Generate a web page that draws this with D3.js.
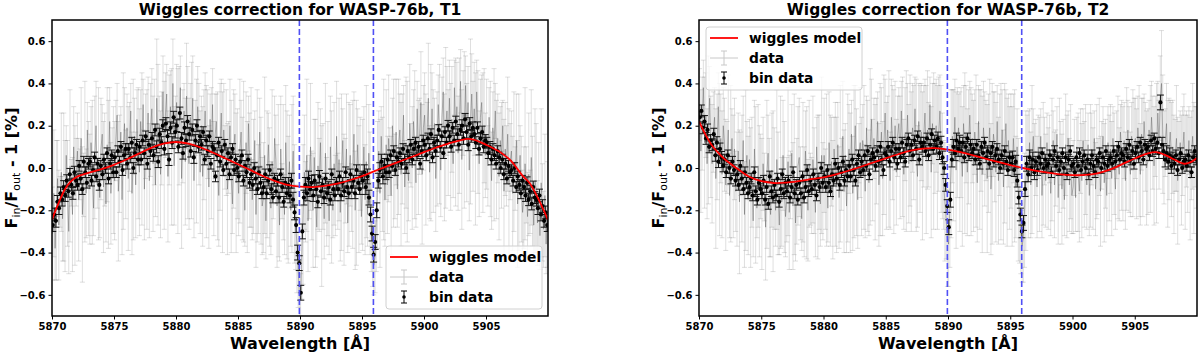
<!DOCTYPE html>
<html>
<head>
<meta charset="utf-8">
<script src="https://cdn.jsdelivr.net/npm/d3@7"></script>
<style>
body { margin: 0; background: #fff; }
svg text { font-family: "DejaVu Sans", sans-serif; font-weight: bold; }
</style>
</head>
<body>
<script>
// x-grid: raw spectrum every 0.1 A, binned spectrum every 0.125 A, from 5870 to 5910
const WAVE_START = 5870;
const RAW_STEP = 0.1;
const BIN_STEP = 0.125;
const xTicks = [5870, 5875, 5880, 5885, 5890, 5895, 5900, 5905];
const yTicks = [-0.6, -0.4, -0.2, 0.0, 0.2, 0.4, 0.6];
const sodiumLines = [5889.95, 5895.92];

// ---------- T1 ----------
// one row per Angstrom, 5870 .. 5909
const rawT1 = [
  -0.31,-0.12,-0.38,-0.20,-0.05,-0.27,-0.16,-0.02,-0.24,-0.09,
  -0.18,0.06,-0.12,-0.30,0.01,-0.07,-0.22,0.10,-0.13,-0.02,
  0.08,-0.15,-0.03,0.14,-0.22,-0.08,0.03,-0.12,0.18,-0.05,
  -0.10,0.12,-0.02,-0.19,0.05,0.20,-0.08,0.02,-0.14,0.09,
  0.16,-0.09,0.04,-0.17,0.11,-0.03,0.22,-0.12,0.07,-0.01,
  -0.06,0.13,0.25,-0.11,0.02,0.17,-0.15,0.08,0.21,-0.03,
  0.19,-0.05,0.10,0.27,-0.12,0.04,0.15,-0.08,0.23,0.07,
  -0.02,0.22,0.09,0.30,-0.10,0.15,0.04,0.26,-0.06,0.18,
  0.28,0.02,0.17,-0.08,0.33,0.11,0.21,-0.03,0.14,0.36,
  0.06,0.25,0.35,-0.04,0.18,0.29,0.10,0.40,0.01,0.22,
  0.31,0.08,0.20,0.38,-0.05,0.15,0.27,0.03,0.34,0.12,
  0.02,0.24,0.13,0.33,-0.06,0.19,0.08,0.29,0.16,-0.02,
  0.20,-0.04,0.11,0.27,0.03,0.16,-0.09,0.23,0.07,0.30,
  -0.05,0.15,0.22,0.01,-0.13,0.10,0.26,-0.02,0.18,0.05,
  0.12,-0.10,0.05,0.20,-0.04,-0.17,0.09,0.16,-0.07,0.02,
  -0.12,0.08,0.17,-0.05,0.03,-0.20,0.12,-0.09,0.21,-0.01,
  0.05,-0.15,-0.04,0.13,-0.22,0.01,-0.10,0.17,-0.06,-0.18,
  -0.14,0.06,-0.25,-0.03,0.11,-0.09,-0.19,0.03,-0.12,0.14,
  0.04,-0.18,-0.06,-0.27,0.09,-0.11,-0.02,-0.22,0.12,-0.08,
  -0.15,0.03,-0.20,-0.05,0.08,-0.17,-0.28,-0.35,-0.48,-0.60,
  -0.62,-0.40,-0.22,-0.02,-0.16,0.06,-0.25,-0.09,0.10,-0.13,
  -0.20,0.05,-0.12,-0.28,0.01,-0.08,0.12,-0.18,-0.04,-0.24,
  0.07,-0.16,-0.05,-0.25,0.10,-0.09,-0.20,0.02,-0.13,0.15,
  -0.11,0.04,-0.21,-0.02,0.13,-0.15,-0.06,0.09,-0.26,-0.03,
  0.06,-0.14,-0.03,0.16,-0.20,-0.07,0.11,-0.10,0.02,-0.23,
  -0.08,0.10,-0.15,0.03,-0.22,0.07,-0.12,-0.28,-0.38,-0.46,
  -0.42,-0.25,-0.08,0.08,-0.12,0.15,-0.03,0.04,-0.15,0.11,
  -0.08,0.14,0.03,-0.13,0.20,0.07,-0.04,0.17,-0.10,0.10,
  0.18,-0.03,0.09,0.25,-0.09,0.12,0.03,-0.06,0.21,0.06,
  0.00,0.22,0.11,-0.07,0.28,0.05,0.15,0.31,-0.03,0.19,
  0.25,0.04,0.17,0.33,-0.02,0.12,0.28,0.08,0.21,-0.05,
  0.09,0.30,0.16,-0.01,0.24,0.36,0.05,0.19,0.27,0.12,
  0.33,0.10,0.23,0.02,0.38,0.17,0.29,0.07,0.20,0.41,
  0.04,0.26,0.18,0.39,0.12,0.31,-0.01,0.22,0.35,0.15,
  0.28,0.09,0.36,0.17,0.02,0.24,0.31,0.12,0.20,0.06,
  0.16,0.01,0.24,0.09,-0.06,0.19,0.11,0.27,0.04,0.14,
  -0.04,0.13,0.06,0.20,-0.11,0.09,0.01,0.16,-0.08,0.03,
  0.08,-0.12,0.03,-0.05,0.13,-0.17,-0.02,0.06,-0.10,-0.21,
  -0.14,0.02,-0.08,-0.23,-0.03,-0.16,0.05,-0.11,-0.27,-0.06,
  -0.10,-0.26,-0.15,-0.32,-0.07,-0.21,-0.29,-0.13,-0.36,-0.22
];
const rawErrT1 = [
  0.22,0.30,0.15,0.33,0.18,0.26,0.12,0.28,0.20,0.35,
  0.31,0.14,0.25,0.20,0.36,0.11,0.27,0.19,0.33,0.16,
  0.18,0.29,0.12,0.24,0.32,0.15,0.38,0.21,0.13,0.27,
  0.26,0.17,0.34,0.13,0.29,0.21,0.11,0.36,0.19,0.24,
  0.14,0.31,0.22,0.18,0.27,0.35,0.16,0.24,0.12,0.30,
  0.28,0.19,0.15,0.33,0.23,0.12,0.26,0.37,0.17,0.21,
  0.16,0.34,0.21,0.13,0.29,0.38,0.18,0.25,0.14,0.31,
  0.30,0.15,0.36,0.12,0.24,0.20,0.33,0.17,0.27,0.22,
  0.19,0.32,0.25,0.15,0.28,0.38,0.13,0.30,0.22,0.17,
  0.35,0.20,0.14,0.31,0.26,0.17,0.37,0.21,0.28,0.12,
  0.18,0.39,0.28,0.15,0.33,0.22,0.13,0.30,0.25,0.36,
  0.31,0.16,0.37,0.20,0.27,0.13,0.34,0.19,0.24,0.29,
  0.14,0.33,0.26,0.18,0.36,0.21,0.29,0.12,0.31,0.17,
  0.27,0.20,0.13,0.35,0.24,0.30,0.16,0.38,0.22,0.15,
  0.25,0.31,0.17,0.22,0.36,0.14,0.28,0.19,0.33,0.26,
  0.20,0.34,0.15,0.29,0.38,0.17,0.24,0.31,0.13,0.27,
  0.33,0.19,0.27,0.14,0.25,0.36,0.21,0.16,0.30,0.23,
  0.26,0.37,0.18,0.30,0.15,0.28,0.22,0.34,0.12,0.20,
  0.21,0.29,0.36,0.17,0.25,0.13,0.32,0.19,0.27,0.35,
  0.30,0.22,0.17,0.35,0.26,0.28,0.20,0.24,0.18,0.15,
  0.12,0.22,0.33,0.27,0.19,0.36,0.24,0.15,0.30,0.21,
  0.27,0.18,0.35,0.14,0.30,0.22,0.16,0.38,0.25,0.19,
  0.33,0.21,0.27,0.16,0.24,0.36,0.13,0.29,0.19,0.26,
  0.18,0.29,0.23,0.37,0.15,0.31,0.20,0.26,0.14,0.34,
  0.24,0.16,0.35,0.20,0.28,0.39,0.17,0.30,0.22,0.13,
  0.31,0.19,0.26,0.36,0.15,0.23,0.29,0.21,0.18,0.14,
  0.17,0.24,0.30,0.19,0.35,0.14,0.27,0.38,0.22,0.26,
  0.23,0.30,0.16,0.28,0.13,0.35,0.20,0.25,0.18,0.32,
  0.17,0.34,0.26,0.14,0.22,0.31,0.38,0.19,0.28,0.15,
  0.29,0.15,0.35,0.21,0.13,0.27,0.18,0.24,0.33,0.20,
  0.20,0.31,0.14,0.26,0.22,0.37,0.17,0.29,0.12,0.25,
  0.27,0.14,0.33,0.22,0.19,0.16,0.30,0.38,0.21,0.25,
  0.18,0.30,0.25,0.16,0.13,0.35,0.21,0.27,0.32,0.15,
  0.33,0.20,0.37,0.14,0.28,0.17,0.24,0.39,0.19,0.26,
  0.22,0.36,0.15,0.29,0.25,0.18,0.13,0.33,0.27,0.20,
  0.26,0.19,0.14,0.32,0.23,0.17,0.36,0.13,0.28,0.21,
  0.30,0.16,0.25,0.12,0.34,0.22,0.19,0.27,0.36,0.18,
  0.19,0.27,0.33,0.15,0.22,0.30,0.37,0.14,0.25,0.20,
  0.24,0.36,0.18,0.21,0.29,0.15,0.32,0.26,0.17,0.34,
  0.31,0.20,0.27,0.16,0.35,0.23,0.18,0.29,0.14,0.25
];
const binT1 = [
  -0.27,-0.22,-0.25,-0.16,-0.19,-0.12,-0.15,-0.09,
  -0.13,-0.06,-0.11,-0.03,-0.08,-0.12,-0.02,-0.06,
  -0.08,0.01,-0.05,-0.10,0.03,-0.02,-0.07,0.02,
  0.03,-0.06,-0.01,0.05,-0.04,0.02,-0.08,0.01,
  -0.03,0.04,0.00,0.07,-0.05,0.02,0.06,-0.02,
  0.05,-0.02,0.08,0.03,0.10,-0.01,0.06,0.09,
  0.02,0.09,0.05,0.12,0.00,0.07,0.11,0.04,
  0.10,0.04,0.13,0.07,0.15,0.02,0.11,0.08,
  0.14,0.06,0.18,0.10,0.03,0.16,0.12,0.20,
  0.09,0.21,0.15,0.04,0.19,0.12,0.24,0.17,
  0.20,0.10,0.26,0.14,0.07,0.19,0.13,0.22,
  0.16,0.08,0.18,0.05,0.13,0.20,0.10,0.15,
  0.11,0.17,0.04,0.13,0.08,0.15,0.02,0.10,
  0.09,-0.04,0.06,0.12,0.03,0.08,-0.01,0.11,
  0.02,0.07,-0.03,0.05,0.09,-0.01,0.04,0.00,
  -0.04,0.03,0.06,-0.06,0.01,-0.02,0.04,-0.07,
  -0.03,-0.08,0.00,-0.05,-0.10,-0.02,-0.07,-0.12,
  -0.09,-0.03,-0.12,-0.06,-0.01,-0.10,-0.14,-0.05,
  -0.11,-0.06,-0.14,-0.03,-0.09,-0.16,-0.07,-0.12,
  -0.08,-0.13,-0.06,-0.15,-0.21,-0.27,-0.40,-0.45,
  -0.59,-0.30,-0.14,-0.08,-0.12,-0.05,-0.10,-0.07,
  -0.13,-0.06,-0.10,-0.16,-0.04,-0.11,-0.08,-0.14,
  -0.05,-0.12,-0.09,-0.15,-0.03,-0.10,-0.13,-0.07,
  -0.10,-0.04,-0.13,-0.07,-0.11,-0.02,-0.09,-0.12,
  -0.03,-0.09,-0.06,-0.12,-0.01,-0.07,-0.10,-0.04,
  -0.06,-0.02,-0.09,-0.04,-0.14,-0.22,-0.31,-0.41,
  -0.35,-0.20,-0.06,-0.01,0.03,-0.04,0.01,-0.02,
  0.04,-0.02,0.06,0.01,0.08,-0.01,0.05,0.03,
  0.07,0.02,0.09,0.04,0.00,0.08,0.05,0.11,
  0.04,0.09,0.12,0.06,0.10,0.02,0.08,0.13,
  0.11,0.06,0.14,0.09,0.16,0.05,0.12,0.08,
  0.13,0.18,0.10,0.15,0.07,0.17,0.12,0.20,
  0.15,0.10,0.19,0.13,0.22,0.16,0.11,0.18,
  0.20,0.14,0.23,0.17,0.11,0.21,0.15,0.19,
  0.16,0.12,0.19,0.09,0.14,0.17,0.10,0.13,
  0.12,0.07,0.10,0.04,0.09,0.06,0.02,0.08,
  0.05,0.00,0.04,-0.03,0.02,-0.05,0.01,-0.02,
  -0.01,-0.06,0.00,-0.09,-0.04,-0.08,-0.12,-0.06,
  -0.09,-0.13,-0.07,-0.15,-0.11,-0.17,-0.09,-0.14,
  -0.15,-0.19,-0.13,-0.22,-0.18,-0.25,-0.21,-0.27
];
// bin error (half-length) for each 1 A slice, 5870..5909
const binErrT1 = [
  0.03,0.028,0.025,0.025,0.025,0.025,0.025,0.025,0.028,0.028,
  0.028,0.028,0.025,0.025,0.025,0.025,0.025,0.025,0.025,0.035,
  0.035,0.028,0.025,0.025,0.025,0.035,0.035,0.025,0.025,0.025,
  0.025,0.025,0.025,0.028,0.028,0.025,0.025,0.025,0.028,0.03
];
const modelT1 = [
  [5870,-0.245],[5870.5,-0.17],[5871,-0.105],[5871.5,-0.065],[5872,-0.042],
  [5873,-0.022],[5874,-0.005],[5875,0.015],[5876,0.04],[5877,0.068],
  [5878,0.095],[5879,0.115],[5880,0.123],[5881,0.115],[5882,0.097],
  [5883,0.072],[5884,0.045],[5885,0.018],[5886,-0.01],[5887,-0.038],
  [5888,-0.062],[5889,-0.08],[5890,-0.088],[5891,-0.09],[5892,-0.085],
  [5893,-0.074],[5894,-0.058],[5895,-0.038],[5896,-0.015],[5897,0.008],
  [5898,0.03],[5899,0.052],[5900,0.075],[5901,0.097],[5902,0.117],
  [5903,0.132],[5903.5,0.138],[5904,0.134],[5905,0.11],[5906,0.08],
  [5906.6,0.055],[5907,0.035],[5908,-0.04],[5908.5,-0.07],[5909,-0.12],
  [5909.5,-0.18],[5910,-0.245]
];

// ---------- T2 ----------
const rawT2 = [
  0.30,0.08,0.21,0.38,0.12,0.25,0.02,0.18,0.33,0.10,
  0.02,0.17,0.24,-0.05,0.10,0.29,0.04,0.14,-0.03,0.20,
  0.11,-0.08,0.05,0.18,-0.13,0.02,0.14,-0.04,0.09,-0.11,
  -0.10,0.08,-0.16,0.02,-0.05,0.13,-0.22,-0.01,0.06,-0.13,
  0.04,-0.14,-0.02,-0.25,0.09,-0.08,-0.19,0.01,-0.11,-0.04,
  -0.17,0.02,-0.09,-0.28,-0.03,0.07,-0.14,-0.22,-0.01,-0.11,
  -0.05,-0.20,0.04,-0.12,-0.27,-0.02,-0.16,0.06,-0.09,-0.23,
  -0.15,0.03,-0.21,-0.08,0.07,-0.18,-0.03,-0.26,-0.11,0.01,
  0.05,-0.12,-0.24,-0.02,-0.16,0.08,-0.07,-0.20,0.02,-0.10,
  -0.13,0.04,-0.06,-0.21,0.10,-0.09,-0.02,-0.17,0.06,-0.11,
  0.06,-0.10,-0.01,-0.19,0.12,-0.06,0.03,-0.15,0.09,-0.03,
  -0.08,0.11,-0.14,0.02,-0.03,0.15,-0.11,0.06,-0.18,0.00,
  0.09,-0.07,0.16,-0.12,0.03,0.20,-0.02,-0.15,0.07,0.12,
  -0.04,0.13,0.05,-0.11,0.19,0.01,-0.07,0.10,0.23,-0.01,
  0.14,-0.02,0.08,0.22,-0.08,0.04,0.17,-0.05,0.11,0.26,
  0.01,0.18,0.09,-0.06,0.24,0.12,0.03,0.20,-0.02,0.15,
  0.21,0.05,0.27,0.10,-0.03,0.16,0.08,0.25,0.02,0.13,
  0.03,0.19,0.12,0.28,0.06,-0.04,0.22,0.09,0.17,0.01,
  0.15,0.26,0.04,0.18,0.11,0.30,-0.02,0.21,0.08,0.14,
  0.20,0.05,0.16,0.27,0.09,0.01,-0.08,-0.16,-0.24,-0.33,
  -0.36,-0.18,0.02,0.15,0.06,0.24,-0.01,0.12,0.19,0.03,
  0.12,-0.04,0.21,0.07,0.16,-0.02,0.10,0.25,0.03,0.14,
  0.01,0.17,0.08,-0.07,0.22,0.04,0.13,-0.03,0.19,0.09,
  0.13,-0.05,0.07,0.19,-0.10,0.02,0.16,0.10,-0.02,0.22,
  -0.06,0.11,0.03,0.18,-0.09,0.07,0.21,-0.02,0.13,0.00,
  0.08,-0.04,0.14,0.01,-0.09,0.10,-0.15,-0.22,-0.30,-0.37,
  -0.33,-0.20,-0.06,0.06,-0.03,0.12,-0.08,0.04,0.15,-0.01,
  0.05,-0.09,0.10,-0.03,0.15,-0.13,0.02,0.08,-0.06,0.12,
  -0.05,0.09,-0.12,0.04,0.13,-0.08,0.00,0.16,-0.14,0.06,
  0.07,-0.10,0.02,-0.15,0.11,-0.04,0.14,-0.08,0.03,-0.13,
  -0.09,0.05,-0.14,0.10,-0.02,-0.11,0.08,-0.06,0.13,-0.03,
  0.04,-0.08,0.11,-0.13,0.01,0.09,-0.05,0.14,-0.10,0.03,
  -0.04,0.10,-0.11,0.06,0.15,-0.07,0.02,-0.13,0.12,0.00,
  0.09,-0.05,0.14,0.02,-0.10,0.11,0.05,-0.03,0.17,0.06,
  0.02,0.13,-0.06,0.09,0.18,0.04,-0.03,0.15,0.07,0.11,
  0.14,0.02,0.19,0.08,-0.03,0.16,0.05,0.22,0.10,0.00,
  0.03,0.18,0.09,0.24,0.12,0.01,0.15,0.07,0.26,0.11,
  0.33,0.40,0.16,0.05,0.12,0.21,0.02,0.09,0.17,0.04,
  0.10,-0.03,0.06,0.14,-0.06,0.03,0.12,-0.01,0.08,0.17,
  -0.02,0.09,0.02,0.13,-0.05,0.06,0.15,0.00,0.10,0.05
];
const rawErrT2 = [
  0.17,0.29,0.22,0.13,0.31,0.20,0.26,0.35,0.15,0.24,
  0.28,0.19,0.14,0.33,0.25,0.16,0.36,0.21,0.30,0.18,
  0.22,0.31,0.17,0.26,0.20,0.37,0.14,0.29,0.24,0.19,
  0.27,0.18,0.34,0.15,0.30,0.21,0.25,0.38,0.16,0.28,
  0.19,0.33,0.26,0.17,0.23,0.37,0.14,0.29,0.31,0.20,
  0.31,0.22,0.16,0.25,0.35,0.18,0.28,0.20,0.27,0.38,
  0.24,0.17,0.33,0.29,0.14,0.36,0.21,0.26,0.31,0.19,
  0.20,0.35,0.27,0.16,0.23,0.30,0.38,0.18,0.25,0.28,
  0.28,0.22,0.15,0.33,0.26,0.19,0.36,0.24,0.30,0.17,
  0.18,0.30,0.25,0.21,0.14,0.34,0.27,0.20,0.37,0.23,
  0.27,0.19,0.36,0.16,0.24,0.31,0.21,0.28,0.15,0.34,
  0.32,0.20,0.24,0.37,0.17,0.26,0.29,0.15,0.22,0.35,
  0.21,0.33,0.16,0.27,0.36,0.19,0.30,0.23,0.14,0.26,
  0.28,0.17,0.34,0.22,0.15,0.31,0.25,0.37,0.19,0.24,
  0.19,0.32,0.25,0.14,0.29,0.36,0.21,0.27,0.33,0.16,
  0.30,0.16,0.37,0.23,0.18,0.27,0.34,0.21,0.25,0.19,
  0.17,0.29,0.14,0.33,0.26,0.22,0.38,0.15,0.28,0.31,
  0.33,0.21,0.27,0.15,0.36,0.24,0.18,0.30,0.23,0.35,
  0.24,0.16,0.35,0.28,0.20,0.13,0.31,0.19,0.37,0.26,
  0.22,0.34,0.27,0.17,0.30,0.25,0.21,0.28,0.19,0.23,
  0.20,0.29,0.35,0.22,0.31,0.18,0.37,0.26,0.16,0.33,
  0.26,0.33,0.18,0.38,0.23,0.30,0.27,0.16,0.35,0.21,
  0.31,0.20,0.36,0.28,0.17,0.33,0.24,0.37,0.22,0.27,
  0.19,0.35,0.28,0.23,0.31,0.38,0.20,0.26,0.33,0.17,
  0.30,0.24,0.37,0.19,0.27,0.33,0.16,0.35,0.22,0.29,
  0.27,0.33,0.21,0.36,0.24,0.18,0.29,0.23,0.20,0.17,
  0.21,0.27,0.33,0.19,0.30,0.16,0.25,0.35,0.13,0.22,
  0.18,0.24,0.15,0.27,0.13,0.20,0.29,0.16,0.22,0.14,
  0.24,0.16,0.20,0.29,0.14,0.25,0.18,0.13,0.22,0.27,
  0.15,0.26,0.21,0.17,0.24,0.29,0.13,0.22,0.27,0.18,
  0.22,0.18,0.16,0.14,0.28,0.24,0.20,0.27,0.15,0.25,
  0.26,0.21,0.15,0.19,0.29,0.17,0.24,0.13,0.22,0.27,
  0.18,0.23,0.26,0.16,0.14,0.28,0.21,0.19,0.17,0.25,
  0.21,0.27,0.15,0.24,0.19,0.16,0.29,0.22,0.13,0.26,
  0.27,0.18,0.23,0.29,0.14,0.25,0.20,0.16,0.30,0.22,
  0.19,0.26,0.15,0.31,0.24,0.17,0.28,0.13,0.21,0.27,
  0.25,0.14,0.30,0.17,0.22,0.28,0.19,0.33,0.15,0.21,
  0.20,0.25,0.28,0.22,0.16,0.19,0.30,0.24,0.15,0.27,
  0.22,0.28,0.17,0.25,0.30,0.19,0.15,0.26,0.21,0.18,
  0.27,0.18,0.23,0.16,0.29,0.21,0.25,0.31,0.19,0.24
];
const binT2 = [
  0.24,0.27,0.19,0.22,0.14,0.18,0.10,0.13,
  0.11,0.16,0.06,0.12,0.03,0.09,0.05,0.01,
  0.04,-0.02,0.06,0.00,-0.05,0.03,-0.01,-0.06,
  -0.03,-0.08,0.01,-0.05,-0.10,-0.02,-0.07,-0.12,
  -0.09,-0.05,-0.13,-0.02,-0.11,-0.15,-0.07,-0.10,
  -0.12,-0.06,-0.15,-0.09,-0.17,-0.04,-0.11,-0.14,
  -0.08,-0.13,-0.05,-0.16,-0.10,-0.03,-0.12,-0.07,
  -0.11,-0.06,-0.14,-0.09,-0.02,-0.12,-0.08,-0.15,
  -0.07,-0.12,-0.04,-0.14,-0.09,-0.01,-0.11,-0.06,
  -0.10,-0.03,-0.08,-0.13,-0.05,-0.09,0.00,-0.07,
  -0.04,-0.09,-0.01,-0.07,-0.11,-0.03,-0.06,0.02,
  -0.05,0.00,-0.08,-0.02,0.03,-0.06,-0.01,-0.04,
  0.01,-0.04,0.04,-0.01,-0.06,0.02,0.06,-0.02,
  0.03,-0.01,0.06,0.01,0.08,-0.03,0.04,0.07,
  0.05,0.01,0.08,0.03,0.10,0.04,-0.01,0.07,
  0.06,0.10,0.03,0.08,0.12,0.05,0.09,0.02,
  0.09,0.05,0.12,0.07,0.03,0.11,0.14,0.08,
  0.11,0.06,0.13,0.09,0.15,0.04,0.12,0.10,
  0.12,0.08,0.14,0.06,0.11,0.16,0.09,0.13,
  0.10,0.14,0.07,0.12,0.05,0.00,-0.08,-0.18,
  -0.28,-0.15,0.04,0.10,0.07,0.13,0.09,0.12,
  0.08,0.12,0.05,0.10,0.14,0.06,0.11,0.07,
  0.09,0.04,0.11,0.06,0.02,0.10,0.07,0.12,
  0.05,0.08,0.02,0.07,0.10,0.03,0.06,0.09,
  0.04,0.00,0.06,0.02,0.08,0.03,-0.01,0.05,
  0.02,0.05,-0.01,0.03,-0.06,-0.14,-0.22,-0.30,
  -0.26,-0.10,0.02,-0.03,0.05,0.00,0.04,-0.02,
  0.03,-0.01,0.05,0.02,0.07,0.00,0.04,0.01,
  0.02,0.06,-0.02,0.04,0.08,0.01,0.05,-0.01,
  0.03,0.07,0.00,0.05,-0.03,0.04,0.08,0.01,
  0.02,-0.02,0.05,0.01,0.07,-0.01,0.03,0.06,
  0.00,0.04,-0.03,0.02,0.06,0.01,-0.02,0.04,
  0.03,0.07,0.00,0.05,0.02,0.08,0.01,0.04,
  0.05,0.02,0.08,0.03,0.06,0.10,0.04,0.07,
  0.06,0.03,0.09,0.05,0.11,0.04,0.08,0.02,
  0.07,0.10,0.05,0.12,0.08,0.04,0.11,0.09,
  0.10,0.06,0.13,0.08,0.14,0.09,0.12,0.07,
  0.31,0.11,0.08,0.04,0.07,0.03,0.06,0.01,
  0.05,0.02,0.06,-0.01,0.04,0.07,0.00,0.03,
  0.04,0.01,0.06,0.03,-0.02,0.05,0.08,0.04
];
const binErrT2 = [
  0.028,0.028,0.025,0.025,0.025,0.025,0.025,0.025,0.025,0.025,
  0.025,0.025,0.025,0.025,0.025,0.025,0.025,0.025,0.025,0.03,
  0.035,0.025,0.025,0.025,0.025,0.03,0.035,0.025,0.025,0.025,
  0.025,0.025,0.025,0.025,0.025,0.025,0.025,0.035,0.025,0.025
];
const modelT2 = [
  [5870,0.22],[5870.5,0.16],[5871,0.11],[5871.5,0.075],[5872,0.045],
  [5873,0.0],[5874,-0.04],[5875,-0.062],[5876,-0.071],[5877,-0.069],
  [5878,-0.062],[5879,-0.053],[5880,-0.044],[5881,-0.03],[5882,-0.013],
  [5883,0.006],[5884,0.026],[5885,0.046],[5886,0.065],[5887,0.082],
  [5888,0.092],[5889,0.094],[5890,0.087],[5891,0.075],[5892,0.06],
  [5893,0.044],[5894,0.029],[5895,0.014],[5896,0.0],[5897,-0.012],
  [5898,-0.022],[5899,-0.03],[5900,-0.034],[5901,-0.033],[5902,-0.025],
  [5903,-0.008],[5904,0.018],[5905,0.045],[5906,0.068],[5906.7,0.075],
  [5907.5,0.06],[5908,0.045],[5908.5,0.03],[5909,0.02],[5909.5,0.028],[5910,0.047]
];

const panels = [
  { id: 't1', title: 'Wiggles correction for WASP-76b, T1', left: 52, right: 548,
    raw: rawT1, rawErr: rawErrT1, bin: binT1, binErr: binErrT1, model: modelT1,
    legend: { x: 386, y: 246 } },
  { id: 't2', title: 'Wiggles correction for WASP-76b, T2', left: 699, right: 1197,
    raw: rawT2, rawErr: rawErrT2, bin: binT2, binErr: binErrT2, model: modelT2,
    legend: { x: 706, y: 27 } }
];

const TOP = 20, BOTTOM = 316;
const svg = d3.select('body').append('svg').attr('width', 1200).attr('height', 357);
const defs = svg.append('defs');

const RAW_COLOR = '#606060';
const DASH_COLOR = '#5050f5';

// vertical error bar with caps
function errorBar(g, cx, y0, y1, cap) {
  g.append('line').attr('x1', cx).attr('x2', cx).attr('y1', y0).attr('y2', y1);
  g.append('line').attr('x1', cx - cap).attr('x2', cx + cap).attr('y1', y0).attr('y2', y0);
  g.append('line').attr('x1', cx - cap).attr('x2', cx + cap).attr('y1', y1).attr('y2', y1);
}

function drawPanel(p) {
  const x = d3.scaleLinear().domain([5870, 5910]).range([p.left, p.right]);
  const y = d3.scaleLinear().domain([-0.7, 0.7]).range([BOTTOM, TOP]);

  defs.append('clipPath').attr('id', 'clip-' + p.id)
    .append('rect').attr('x', p.left).attr('y', TOP)
    .attr('width', p.right - p.left).attr('height', BOTTOM - TOP);

  const plot = svg.append('g').attr('clip-path', `url(#clip-${p.id})`);

  // raw data: faint error bars + connecting line
  const rawPts = p.raw.map((v, i) => ({
    w: WAVE_START + (i + 0.5) * RAW_STEP, v, e: p.rawErr[i]
  }));
  const rawG = plot.append('g')
    .attr('stroke', RAW_COLOR).attr('stroke-opacity', 0.2).attr('stroke-width', 1);
  rawPts.forEach(d => errorBar(rawG, x(d.w), y(d.v - d.e), y(d.v + d.e), 2.5));
  plot.append('path').datum(rawPts)
    .attr('fill', 'none').attr('stroke', RAW_COLOR).attr('stroke-opacity', 0.45).attr('stroke-width', 1)
    .attr('d', d3.line().x(d => x(d.w)).y(d => y(d.v)));

  // binned data
  const binG = plot.append('g').attr('stroke', '#111').attr('stroke-width', 1);
  p.bin.forEach((v, i) => {
    const w = WAVE_START + (i + 0.5) * BIN_STEP;
    const e = p.binErr[Math.floor(w - WAVE_START)];
    errorBar(binG, x(w), y(v - e), y(v + e), 3.5);
    plot.append('circle').attr('cx', x(w)).attr('cy', y(v)).attr('r', 2.1).attr('fill', '#000');
  });

  // wiggles model
  plot.append('path').datum(p.model)
    .attr('fill', 'none').attr('stroke', '#ff0000').attr('stroke-width', 1.8)
    .attr('d', d3.line().x(d => x(d[0])).y(d => y(d[1])).curve(d3.curveCatmullRom));

  // sodium D lines
  sodiumLines.forEach(w => {
    svg.append('line').attr('x1', x(w)).attr('x2', x(w)).attr('y1', TOP).attr('y2', BOTTOM)
      .attr('stroke', DASH_COLOR).attr('stroke-width', 1.6).attr('stroke-dasharray', '6,3');
  });

  // axes
  const xAxis = d3.axisBottom(x).tickValues(xTicks).tickFormat(d3.format('d'))
    .tickSize(3.5).tickPadding(3);
  const yAxis = d3.axisLeft(y).tickValues(yTicks).tickFormat(d3.format('.1f'))
    .tickSize(3.5).tickPadding(3);
  const xg = svg.append('g').attr('transform', `translate(0,${BOTTOM})`).call(xAxis);
  const yg = svg.append('g').attr('transform', `translate(${p.left},0)`).call(yAxis);
  [xg, yg].forEach(a => {
    a.select('.domain').remove();
    a.selectAll('text').attr('font-size', 10).attr('font-family', '"DejaVu Sans", sans-serif')
      .attr('font-weight', 'bold').attr('fill', '#000');
    a.selectAll('.tick line').attr('stroke', '#000');
  });

  svg.append('rect').attr('x', p.left).attr('y', TOP)
    .attr('width', p.right - p.left).attr('height', BOTTOM - TOP)
    .attr('fill', 'none').attr('stroke', '#000').attr('stroke-width', 1.5);

  // title & labels
  const cx = (p.left + p.right) / 2;
  svg.append('text').attr('x', cx).attr('y', 15).attr('text-anchor', 'middle')
    .attr('font-size', 15.5).text(p.title);
  svg.append('text').attr('x', cx).attr('y', 349).attr('text-anchor', 'middle')
    .attr('font-size', 16).text('Wavelength [Å]');

  const yl = svg.append('text')
    .attr('transform', `translate(${p.left - 35},${(TOP + BOTTOM) / 2}) rotate(-90)`)
    .attr('text-anchor', 'middle').attr('font-size', 16);
  yl.append('tspan').text('F');
  yl.append('tspan').attr('font-size', 11).attr('font-weight', 'normal').attr('dy', 3).text('in');
  yl.append('tspan').attr('dy', -3).text('/F');
  yl.append('tspan').attr('font-size', 11).attr('font-weight', 'normal').attr('dy', 3).text('out');
  yl.append('tspan').attr('dy', -3).text(' - 1 [%]');

  // legend
  const L = p.legend;
  const lg = svg.append('g').attr('transform', `translate(${L.x},${L.y})`);
  lg.append('rect').attr('width', 156).attr('height', 63).attr('rx', 3)
    .attr('fill', '#fff').attr('fill-opacity', 0.8).attr('stroke', '#d0d0d0');
  ['wiggles model', 'data', 'bin data'].forEach((t, i) => {
    lg.append('text').attr('x', 43).attr('y', 11 + i * 20).attr('font-size', 13.8)
      .attr('dominant-baseline', 'central').text(t);
  });
  lg.append('line').attr('x1', 4).attr('x2', 32).attr('y1', 11).attr('y2', 11)
    .attr('stroke', '#ff0000').attr('stroke-width', 1.8);
  const dG = lg.append('g').attr('stroke', '#c8c8c8').attr('stroke-width', 1);
  dG.append('line').attr('x1', 4).attr('x2', 32).attr('y1', 31).attr('y2', 31);
  errorBar(dG, 18, 24, 38, 3);
  const bG = lg.append('g').attr('stroke', '#000').attr('stroke-width', 1);
  errorBar(bG, 18, 45, 57, 3);
  lg.append('circle').attr('cx', 18).attr('cy', 51).attr('r', 1.8).attr('fill', '#000');
}

panels.forEach(drawPanel);
</script>
</body>
</html>
